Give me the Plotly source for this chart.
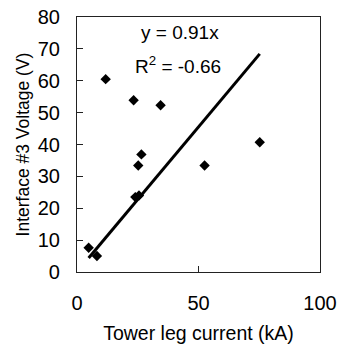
import plotly.graph_objects as go

# Data
current_kA = [4.8, 8.2, 11.8, 23.3, 34.4, 26.5, 25.2, 24.0, 25.5, 52.5, 75.2]
voltage_V = [7.6, 5.0, 60.5, 53.9, 52.3, 36.9, 33.4, 23.5, 24.0, 33.4, 40.7]
slope = 0.91
r2_text = "-0.66"
x_ticks = [0, 50, 100]
y_ticks = [0, 10, 20, 30, 40, 50, 60, 70, 80]

FONT = "Liberation Sans, Arial, sans-serif"

fit_x = [min(current_kA), max(current_kA)]
fit_y = [slope * v for v in fit_x]

fig = go.Figure()
fig.add_trace(go.Scatter(
    x=fit_x, y=fit_y, mode="lines",
    line=dict(color="black", width=3), showlegend=False, hoverinfo="skip"))
fig.add_trace(go.Scatter(
    x=current_kA, y=voltage_V, mode="markers",
    marker=dict(symbol="diamond", color="black", size=8), showlegend=False))

fig.add_annotation(x=42.4, y=75, xref="x", yref="y", text=f"y = {slope}x",
                   showarrow=False, font=dict(family=FONT, size=19, color="black"))
fig.add_annotation(x=41.6, y=65, xref="x", yref="y", text=f"R<sup>2</sup> = {r2_text}",
                   showarrow=False, font=dict(family=FONT, size=19, color="black"))

fig.update_layout(
    width=340, height=345,
    margin=dict(l=77, r=20, t=17, b=73, autoexpand=False),
    paper_bgcolor="white", plot_bgcolor="white",
    font=dict(family=FONT, size=20, color="black"),
)
fig.update_xaxes(
    range=[0, 100], tickvals=x_ticks, ticks="inside", ticklen=6, tickwidth=1,
    tickcolor="#222", showline=True, linecolor="#222", linewidth=1.2, mirror=True,
    showgrid=False, zeroline=False, ticklabelstandoff=13,
    tickfont=dict(size=20),
    title=dict(text="Tower leg current (kA)", font=dict(size=19.5), standoff=13),
)
fig.update_yaxes(
    range=[0, 80], tickvals=y_ticks, ticks="inside", ticklen=6, tickwidth=1,
    tickcolor="#222", showline=True, linecolor="#222", linewidth=1.2, mirror=True,
    showgrid=False, zeroline=False, ticklabelstandoff=12,
    tickfont=dict(size=20),
    title=dict(text="Interface #3 Voltage (V)", font=dict(size=17.5), standoff=3),
)

fig.write_html("out.html")
